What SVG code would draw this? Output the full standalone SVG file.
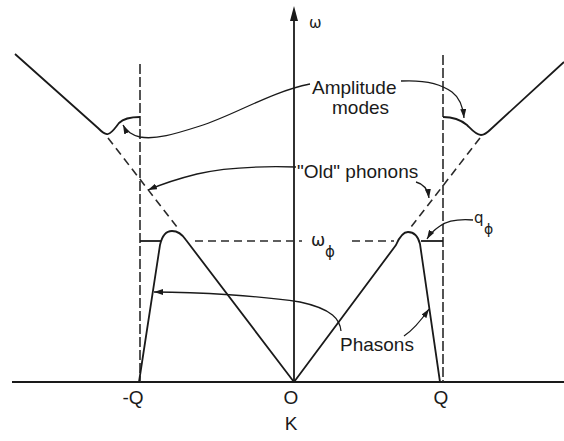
<svg xmlns="http://www.w3.org/2000/svg" width="564" height="441" viewBox="0 0 564 441">
<defs>
<marker id="ah" markerUnits="userSpaceOnUse" markerWidth="9" markerHeight="6" refX="9" refY="3" orient="auto">
<path d="M0,0 L9,3 L0,6 z" fill="#1a1a1a"/>
</marker>
<style>
.curve{fill:none;stroke:#1a1a1a;stroke-width:1.8;stroke-linejoin:round}
.axis{fill:none;stroke:#1a1a1a;stroke-width:1.8}
.dash{fill:none;stroke:#2a2a2a;stroke-width:1.6;stroke-dasharray:8 5}
.vdash{fill:none;stroke:#2a2a2a;stroke-width:1.6;stroke-dasharray:10 3}
.lead{fill:none;stroke:#1a1a1a;stroke-width:1.3;marker-end:url(#ah)}
.lbl{font-family:"Liberation Sans",Arial,sans-serif;font-size:19px;fill:#1a1a1a}
.sym{font-family:"DejaVu Sans","Liberation Sans",sans-serif;fill:#1a1a1a}
</style>
</defs>
<rect width="564" height="441" fill="#fff"/>
<g id="axes">
<line class="axis" x1="12" y1="382" x2="564" y2="382"/>
<line class="axis" x1="294" y1="382" x2="294" y2="16"/>
<path d="M294,6 L298,21 L290,21 z" fill="#1a1a1a"/>
<text class="sym" x="309" y="28" font-size="15">ω</text>
<text class="lbl" x="133" y="404" text-anchor="middle">-Q</text>
<text class="lbl" x="291" y="404" text-anchor="middle">O</text>
<text class="lbl" x="441" y="404" text-anchor="middle">Q</text>
<text class="lbl" x="291" y="430" text-anchor="middle">K</text>
</g>
<g id="zone-boundaries">
<line class="vdash" x1="140" y1="64" x2="140" y2="382"/>
<line class="vdash" x1="443" y1="55" x2="443" y2="382"/>
</g>
<g id="amplitude-modes">
<path class="curve" d="M15,54 L98,128 C102,132 105,135 108,134 C112,133 115,128 119,123 C124,118 131,117 140,117"/>
<path class="curve" d="M443,117 C453,117 461,120 467,125 C472,130 476,135 481,135 C484,135 487,133 491,129 L564,62"/>
</g>
<g id="old-phonons">
<path class="dash" d="M108,138 L177,227"/>
<path class="dash" d="M480,138 L411,227"/>
</g>
<g id="phasons">
<path class="curve" d="M139,382 L160,245 C162,236 166,231 172,231 C178,231 182,234 186,240 L294,382"/>
<path class="curve" d="M294,382 L396,245 C399,238 403,232 408,232 C414,232 418,236 420,244 L440,382"/>
<line class="curve" x1="140" y1="241" x2="161" y2="241"/>
<line class="curve" x1="421" y1="241" x2="443" y2="241"/>
</g>
<g id="omega-phi">
<line class="dash" x1="195" y1="241" x2="302" y2="241"/>
<line class="dash" x1="352" y1="241" x2="394" y2="241"/>
<text class="sym" x="311" y="246" font-size="17">ω</text>
<text class="sym" x="325" y="257" font-size="15">ϕ</text>
</g>
<g id="labels">
<text class="lbl" x="312" y="94">Amplitude</text>
<text class="lbl" x="332" y="114">modes</text>
<text class="lbl" x="297" y="178">"Old" phonons</text>
<text class="lbl" x="340" y="351">Phasons</text>
<text class="sym" x="474" y="223" font-size="15">q</text>
<text class="sym" x="484" y="234" font-size="14">ϕ</text>
</g>
<g id="connectors">
<path class="lead" d="M310,84 C270,92 235,115 200,126 C175,134 155,140 140,137 C132,135 126,131 123,125"/>
<path class="lead" d="M401,81 C420,80 440,83 452,92 C460,98 463,106 464,118"/>
<path class="lead" d="M296,167 C260,166 222,168 197,174 C177,179 162,184 148,190"/>
<path class="lead" d="M416,182 C424,184 428,190 429,198"/>
<path class="lead" d="M341,331 C340,320 333,309 300,302 C260,296 200,292 154,292"/>
<path class="lead" d="M404,336 C413,330 420,322 429,309"/>
<path class="lead" d="M473,220 C460,219 447,221 440,226 C434,230 430,234 427,239"/>
</g>
</svg>
